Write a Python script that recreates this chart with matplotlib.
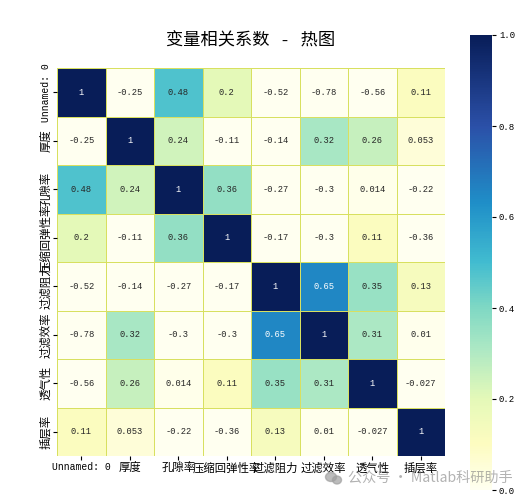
import numpy as np
import pandas as pd
import matplotlib
matplotlib.use('Agg')
import matplotlib.pyplot as plt
from matplotlib.colors import LinearSegmentedColormap
from matplotlib.patches import Ellipse
import seaborn as sns

# Variable names and correlation matrix
labels = ['Unnamed: 0', '厚度', '孔隙率', '压缩回弹性率', '过滤阻力', '过滤效率', '透气性', '插层率']
row_0 = [1, -0.25, 0.48, 0.2, -0.52, -0.78, -0.56, 0.11]
row_1 = [-0.25, 1, 0.24, -0.11, -0.14, 0.32, 0.26, 0.053]
row_2 = [0.48, 0.24, 1, 0.36, -0.27, -0.3, 0.014, -0.22]
row_3 = [0.2, -0.11, 0.36, 1, -0.17, -0.3, 0.11, -0.36]
row_4 = [-0.52, -0.14, -0.27, -0.17, 1, 0.65, 0.35, 0.13]
row_5 = [-0.78, 0.32, -0.3, -0.3, 0.65, 1, 0.31, 0.01]
row_6 = [-0.56, 0.26, 0.014, 0.11, 0.35, 0.31, 1, -0.027]
row_7 = [0.11, 0.053, -0.22, -0.36, 0.13, 0.01, -0.027, 1]
cbar_ticks = [0.0, 0.2, 0.4, 0.6, 0.8, 1.0]

plt.rcParams['font.family'] = ['Liberation Mono', 'Noto Sans CJK SC', 'DejaVu Sans']

# YlGnBu as it looks in the picture, a bit paler at the low end
cmap = LinearSegmentedColormap.from_list('ylgnbu_ref', [
    (0.0, '#fffff0'), (0.1, '#fdfcc0'), (0.2, '#e4f9b8'), (0.31, '#ace8c4'),
    (0.4, '#7fd8c4'), (0.5, '#42bcd0'), (0.63, '#1f8fc8'), (0.8, '#2b50a8'),
    (1.0, '#081d58')])

W, H = 531, 500
fig = plt.figure(figsize=(W / 100, H / 100), dpi=100)
ax = fig.add_axes([57 / W, 1 - 456 / H, 388 / W, 388 / H])
cax = fig.add_axes([470 / W, 1 - 490 / H, 22 / W, 455 / H])

corr = pd.DataFrame([row_0, row_1, row_2, row_3, row_4, row_5, row_6, row_7],
                    index=labels, columns=labels)
sns.heatmap(corr, ax=ax, cbar_ax=cax, cmap=cmap, vmin=0, vmax=1,
            annot=True, annot_kws={'size': 6.3}, linewidths=0.7, linecolor='#d8e060',
            square=False)

ax.set_xticklabels(labels, rotation=0, fontsize=8.2)
ax.set_yticklabels(labels, rotation=90, va='center', fontsize=8.2)
ax.get_xticklabels()[0].set_fontsize(7)
ax.get_yticklabels()[0].set_fontsize(7)
ax.tick_params(axis='x', length=3, width=0.8, pad=1.5)
ax.tick_params(axis='y', length=3, width=0.8, pad=1)

cax.set_yticks(cbar_ticks)
cax.set_yticklabels([f'{t:.1f}' for t in cbar_ticks], fontsize=6.5)
cax.tick_params(length=3, width=0.8, pad=2)

fig.text(251 / W, 1 - 40 / H, '变量相关系数 - 热图', fontsize=12.4, ha='center', va='center')

# watermark in the lower right corner
fig.text(348 / W, 1 - 478 / H, '公众号 · Matlab科研助手', fontsize=10.2, color='#808080',
         alpha=0.6, ha='left', va='center', family=['Noto Sans CJK SC', 'DejaVu Sans'])
fig.add_artist(Ellipse((331 / W, 1 - 477 / H), 11 / W, 9 / H, color='#a0a0a0', alpha=0.7,
                       transform=fig.transFigure))
fig.add_artist(Ellipse((337 / W, 1 - 480 / H), 9 / W, 8 / H, color='#a0a0a0', alpha=0.7,
                       transform=fig.transFigure))

fig.savefig('out.png', dpi=100)
